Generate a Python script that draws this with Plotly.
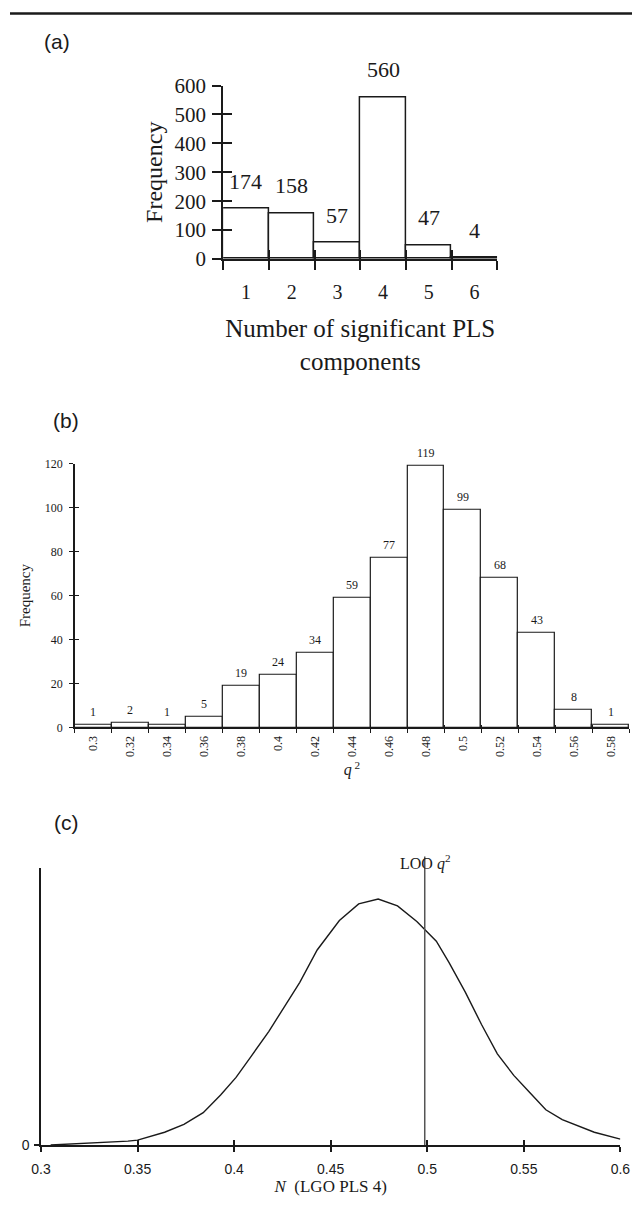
import plotly.graph_objects as go

W, H = 642, 1207

# ---------------- data ----------------
# Panel (a): number of significant PLS components
a_components = ["1", "2", "3", "4", "5", "6"]
a_freq = [174, 158, 57, 560, 47, 4]
a_yticks = [0, 100, 200, 300, 400, 500, 600]

# Panel (b): q^2 histogram
b_q2 = ["0.3", "0.32", "0.34", "0.36", "0.38", "0.4", "0.42", "0.44",
        "0.46", "0.48", "0.5", "0.52", "0.54", "0.56", "0.58"]
b_freq = [1, 2, 1, 5, 19, 24, 34, 59, 77, 119, 99, 68, 43, 8, 1]
b_yticks = [0, 20, 40, 60, 80, 100, 120]

# Panel (c): distribution N (LGO PLS 4), relative density
c_x = [0.305, 0.315, 0.325, 0.335, 0.345, 0.350, 0.357, 0.364, 0.374, 0.384,
       0.393, 0.401, 0.409, 0.418, 0.426, 0.434, 0.443, 0.4495, 0.4545, 0.4645,
       0.4746, 0.4846, 0.4946, 0.5047, 0.5113, 0.5197, 0.5281, 0.5363, 0.5448,
       0.5533, 0.5614, 0.5699, 0.5784, 0.5865, 0.600]
c_density = [0, 1, 1.5, 3, 4, 5, 9, 13, 21, 33,
             51, 69, 91, 116, 141, 166, 199, 216, 229, 246,
             251, 244, 228, 208, 186, 156, 123, 93, 71,
             53, 36, 26, 19, 13, 6]
c_xticks = [0.3, 0.35, 0.4, 0.45, 0.5, 0.55, 0.6]
c_xticklabels = ["0.3", "0.35", "0.4", "0.45", "0.5", "0.55", "0.6"]
c_ymax = 283
loo_q2 = 0.4987

# ---------------- helpers ----------------
SERIF = "Liberation Serif, Times New Roman, serif"
SANS = "Liberation Sans, Arial, sans-serif"
INK = "#1a1a1a"


def fx(px):
    return px / W


def fy(py):
    return 1 - py / H


fig = go.Figure()

# Panel (a) bars
fig.add_trace(go.Bar(x=a_components, y=a_freq, width=1,
                     marker=dict(color="white", line=dict(color=INK, width=1.5)),
                     xaxis="x", yaxis="y", showlegend=False, hoverinfo="x+y"))
# Panel (b) bars
fig.add_trace(go.Bar(x=b_q2, y=b_freq, width=1,
                     marker=dict(color="white", line=dict(color=INK, width=1.2)),
                     xaxis="x2", yaxis="y2", showlegend=False, hoverinfo="x+y"))
# Panel (c) curve
fig.add_trace(go.Scatter(x=c_x, y=c_density, mode="lines",
                         line=dict(color=INK, width=1.4),
                         xaxis="x3", yaxis="y3", showlegend=False))
# empty traces to materialise overlay axes (inside ticks -> crossing ticks)
for xa, ya in [("x4", "y4"), ("x5", "y5"), ("x6", "y6")]:
    fig.add_trace(go.Scatter(x=[], y=[], xaxis=xa, yaxis=ya, showlegend=False))

annotations = []
# bar labels (a) -- category index positions
for i, v in enumerate(a_freq):
    annotations.append(dict(x=i, y=v, xref="x", yref="y", text=str(v), showarrow=False,
                            yanchor="bottom", yshift=13,
                            font=dict(family=SERIF, size=22, color=INK)))
# bar labels (b)
for i, v in enumerate(b_freq):
    annotations.append(dict(x=i, y=v, xref="x2", yref="y2", text=str(v), showarrow=False,
                            yanchor="bottom", yshift=4,
                            font=dict(family=SERIF, size=12, color=INK)))
# LOO q2 label
annotations.append(dict(x=loo_q2, y=1.02, xref="x3", yref="y3 domain",
                        text="LOO <i>q</i><sup>2</sup>", showarrow=False,
                        xanchor="center", yanchor="middle",
                        font=dict(family=SERIF, size=16, color=INK)))
# panel letters
for lab, px, py in [("(a)", 48, 30), ("(b)", 58, 417), ("(c)", 58, 827)]:
    annotations.append(dict(x=fx(px), y=fy(py), xref="paper", yref="paper", text=lab,
                            showarrow=False, xanchor="center", yanchor="middle",
                            font=dict(family=SANS, size=21, color=INK)))

shapes = [
    dict(type="line", xref="paper", yref="paper", x0=0, x1=1, y0=fy(1.5), y1=fy(1.5),
         line=dict(color=INK, width=2.5)),
    dict(type="line", xref="x3", yref="y3 domain", x0=loo_q2, x1=loo_q2, y0=0, y1=1.04,
         line=dict(color="#555", width=1.5)),
]

dom_a_x = [fx(220), fx(503)]
dom_a_y = [fy(252), fy(75)]
dom_b_x = [fx(67), fx(639)]
dom_b_y = [fy(730), fy(461)]
dom_c_x = [fx(32), fx(630)]
dom_c_y = [fy(1156), fy(873)]

base = dict(showgrid=False, zeroline=False, showline=True, linecolor=INK,
            tickcolor=INK, mirror=False)

fig.update_layout(
    width=W, height=H, margin=dict(l=0, r=0, t=0, b=0),
    paper_bgcolor="white", plot_bgcolor="white",
    bargap=0, annotations=annotations, shapes=shapes, showlegend=False,
    # ---- (a)
    xaxis=dict(**base, domain=dom_a_x, anchor="y", type="category",
               range=[-0.5, 5.5], tickson="boundaries", ticks="outside", ticklen=9,
               tickwidth=1.5, linewidth=2, ticklabelstandoff=14,
               tickfont=dict(family=SERIF, size=20, color=INK),
               title=dict(text="Number of significant PLS<br>components", standoff=18,
                          font=dict(family=SERIF, size=25, color=INK))),
    yaxis=dict(**base, domain=dom_a_y, anchor="x", range=[0, 600], tickvals=a_yticks,
               ticks="outside", ticklen=9, tickwidth=1.5, linewidth=2, ticklabelstandoff=2,
               tickfont=dict(family=SERIF, size=21, color=INK),
               title=dict(text="Frequency", standoff=5,
                          font=dict(family=SERIF, size=24, color=INK))),
    xaxis4=dict(overlaying="x", anchor="y4", domain=dom_a_x, range=[-0.5, 5.5],
                tickvals=[-0.5, 0.5, 1.5, 2.5, 3.5, 4.5, 5.5], ticks="inside", ticklen=9,
                tickwidth=1.5, tickcolor=INK, showticklabels=False, showline=False,
                showgrid=False, zeroline=False),
    yaxis4=dict(overlaying="y", anchor="x4", domain=dom_a_y, range=[0, 600],
                tickvals=a_yticks, ticks="inside", ticklen=9, tickwidth=1.5, tickcolor=INK,
                showticklabels=False, showline=False, showgrid=False, zeroline=False),
    # ---- (b)
    xaxis2=dict(**base, domain=dom_b_x, anchor="y2", type="category",
                range=[-0.5, 14.5], tickson="boundaries", ticks="outside", ticklen=4,
                tickwidth=1.2, linewidth=1.5, tickangle=-90, ticklabelstandoff=2,
                tickfont=dict(family=SERIF, size=12, color=INK),
                title=dict(text="<i>q</i><sup> 2</sup>", standoff=8,
                           font=dict(family=SERIF, size=16, color=INK))),
    yaxis2=dict(**base, domain=dom_b_y, anchor="x2", range=[0, 120], tickvals=b_yticks,
                ticks="outside", ticklen=4, tickwidth=1.2, linewidth=1.5,
                ticklabelstandoff=4,
                tickfont=dict(family=SERIF, size=12, color=INK),
                title=dict(text="Frequency", standoff=11,
                           font=dict(family=SERIF, size=15, color=INK))),
    xaxis5=dict(overlaying="x2", anchor="y5", domain=dom_b_x, range=[-0.5, 14.5],
                tickvals=[i - 0.5 for i in range(16)], ticks="inside", ticklen=2,
                tickwidth=1.2, tickcolor=INK, showticklabels=False, showline=False,
                showgrid=False, zeroline=False),
    yaxis5=dict(overlaying="y2", anchor="x5", domain=dom_b_y, range=[0, 120],
                tickvals=b_yticks, ticks="inside", ticklen=4, tickwidth=1.2, tickcolor=INK,
                showticklabels=False, showline=False, showgrid=False, zeroline=False),
    # ---- (c)
    xaxis3=dict(**base, domain=dom_c_x, anchor="y3", range=[0.3, 0.6],
                tickvals=c_xticks, ticktext=c_xticklabels, ticks="outside", ticklen=5,
                tickwidth=1.5, linewidth=1.5, ticklabelstandoff=5,
                tickfont=dict(family=SANS, size=14, color=INK),
                title=dict(text="<i>N</i>  (LGO PLS 4)", standoff=5,
                           font=dict(family=SERIF, size=17, color=INK))),
    yaxis3=dict(**base, domain=dom_c_y, anchor="x3", range=[0, c_ymax], tickvals=[0],
                ticktext=["0"], ticks="outside", ticklen=5, tickwidth=1.5, linewidth=1.5,
                ticklabelstandoff=2, tickfont=dict(family=SANS, size=14, color=INK)),
    xaxis6=dict(overlaying="x3", anchor="y6", domain=dom_c_x, range=[0.3, 0.6],
                tickvals=c_xticks, ticks="inside", ticklen=5, tickwidth=1.5, tickcolor=INK,
                showticklabels=False, showline=False, showgrid=False, zeroline=False),
    yaxis6=dict(overlaying="y3", anchor="x6", domain=dom_c_y, range=[0, c_ymax],
                showticklabels=False, showline=False, showgrid=False, zeroline=False,
                ticks=""),
)

fig.write_html("out.html", post_script="document.body.style.margin='0';")
